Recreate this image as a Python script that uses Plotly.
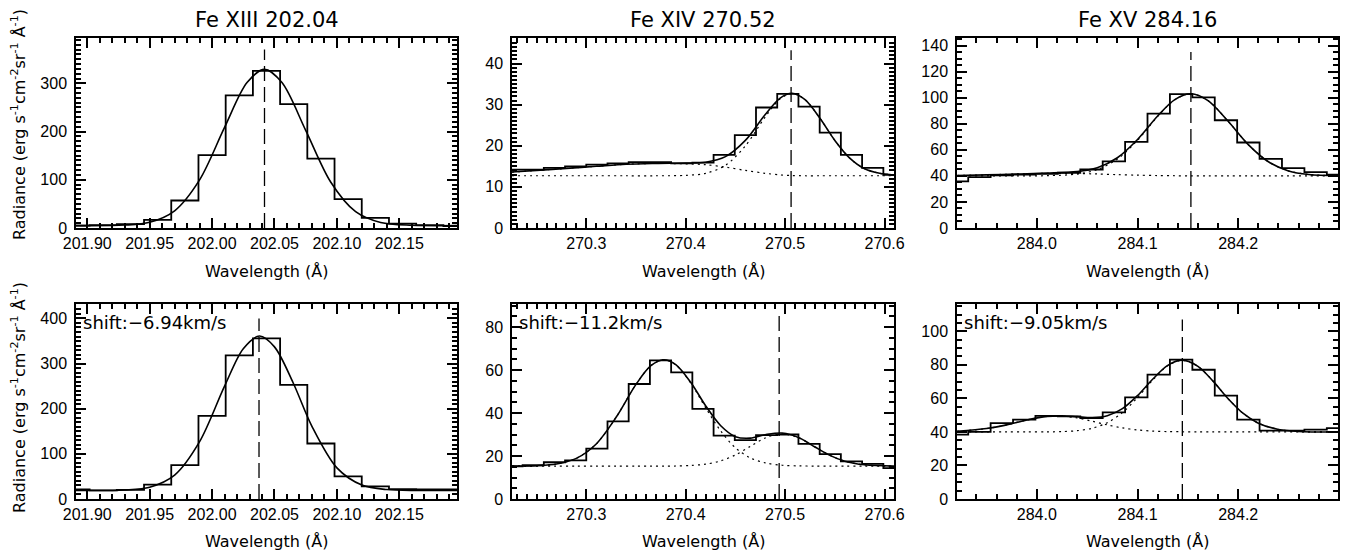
import plotly.graph_objects as go

# ---- panel data ----
# top row: Fe XIII / Fe XIV / Fe XV, first observation
WL1 = [201.891, 201.9128, 201.9346, 201.9564, 201.9782, 202.0000, 202.0218, 202.0436,
       202.0654, 202.0872, 202.1090, 202.1308, 202.1526, 202.1744, 202.1962]
RAD1 = [5, 6, 8, 17, 57, 151, 275, 326, 257, 144, 60, 21, 9, 6, 4]
FITX1 = [201.891, 201.93, 201.95, 201.97, 201.99, 202.01, 202.028, 202.042, 202.056,
         202.075, 202.095, 202.115, 202.135, 202.16, 202.1962]
FIT1 = [5, 6.1, 11.9, 35.7, 99.8, 208.5, 301.5, 329, 301.5, 202.5, 95.4, 33.8, 11.4, 5.6, 5]

WL2 = [270.2253, 270.2466, 270.2680, 270.2893, 270.3107, 270.3320, 270.3533, 270.3747,
       270.3960, 270.4174, 270.4387, 270.4600, 270.4814, 270.5027, 270.5241, 270.5454,
       270.5667, 270.5881, 270.6095]
RAD2 = [14.2, 14.2, 14.6, 15.0, 15.4, 15.7, 16.0, 16.0, 15.7, 15.9, 17.8, 22.6, 29.3,
        32.6, 29.5, 23.2, 17.8, 14.6, 12.9]
FITX2 = [270.2253, 270.25, 270.28, 270.31, 270.34, 270.37, 270.40, 270.42, 270.44, 270.46,
         270.48, 270.495, 270.507, 270.52, 270.535, 270.55, 270.565, 270.58, 270.595, 270.6095]
FIT2 = [13.6, 14.0, 14.5, 15.0, 15.5, 15.7, 15.8, 16.0, 17.35, 21.3, 27.6, 31.6, 32.75,
        31.2, 26.7, 21.3, 17.0, 14.4, 13.3, 12.9]
COMPA2 = [13.6, 14.0, 14.5, 15.0, 15.5, 15.7, 15.6, 15.4, 14.8, 14.0, 13.3, 12.9, 12.75,
          12.7, 12.7, 12.7, 12.7, 12.7, 12.7, 12.7]
COMPB2 = [12.7, 12.7, 12.7, 12.7, 12.7, 12.7, 12.8, 13.3, 15.25, 19.96, 27.0, 31.4, 32.7,
          31.2, 26.7, 21.3, 17.0, 14.4, 13.3, 12.9]

WL3 = [283.9207, 283.9430, 283.9652, 283.9875, 284.0097, 284.0320, 284.0543, 284.0765,
       284.0988, 284.1210, 284.1433, 284.1656, 284.1878, 284.2101, 284.2323, 284.2546,
       284.2769, 284.2991]
RAD3 = [35.8, 39.1, 40.4, 40.9, 41.6, 42.4, 44.9, 51.2, 66.1, 87.8, 102.7, 100.2, 82.7,
        65.6, 53.0, 45.9, 42.9, 40.9]
FITX3 = [283.9207, 283.95, 283.98, 284.01, 284.04, 284.06, 284.08, 284.10, 284.12, 284.137,
         284.153, 284.17, 284.19, 284.21, 284.23, 284.25, 284.27, 284.2991]
FIT3 = [40.3, 40.75, 41.45, 42.1, 43.25, 46.25, 53.9, 67.9, 85.9, 98.5, 103.0, 97.8, 81.9,
        64.0, 50.8, 43.8, 41.1, 40.1]
COMPA3 = [40.0, 40.0, 40.0, 40.15, 41.4, 44.8, 52.9, 67.3, 85.6, 98.4, 103.0, 97.8, 81.9,
          64.0, 50.8, 43.8, 41.1, 40.1]
COMPB3 = [40.3, 40.75, 41.45, 41.95, 41.85, 41.45, 40.95, 40.55, 40.25, 40.1, 40.0, 40.0,
          40.0, 40.0, 40.0, 40.0, 40.0, 40.0]

# bottom row: second observation, with Doppler shift
WL4 = [201.891, 201.9128, 201.9346, 201.9564, 201.9782, 202.0000, 202.0218, 202.0436,
       202.0654, 202.0872, 202.1090, 202.1308, 202.1526, 202.1744, 202.1962]
RAD4 = [21, 19, 20, 32, 75, 184, 318, 356, 253, 123, 50, 28, 22, 21, 21]
FITX4 = [201.891, 201.93, 201.95, 201.97, 201.99, 202.01, 202.025, 202.038, 202.05,
         202.065, 202.08, 202.10, 202.12, 202.14, 202.165, 202.1962]
FIT4 = [19, 20.0, 26.1, 52.9, 127, 250, 333, 361, 337, 257, 161, 69, 30.9, 20.9, 19.1, 19]

WL5 = [270.2253, 270.2466, 270.2680, 270.2893, 270.3107, 270.3320, 270.3533, 270.3747,
       270.3960, 270.4174, 270.4387, 270.4600, 270.4814, 270.5027, 270.5241, 270.5454,
       270.5667, 270.5881, 270.6095]
RAD5 = [15.2, 15.7, 17.1, 18.0, 23.4, 36.1, 53.5, 64.5, 58.9, 41.9, 29.5, 27.4, 29.7,
        30.0, 25.6, 20.9, 17.5, 16.3, 14.4]
FITX5 = [270.2253, 270.25, 270.27, 270.29, 270.31, 270.33, 270.35, 270.365, 270.378, 270.39,
         270.405, 270.42, 270.435, 270.45, 270.465, 270.48, 270.497, 270.515, 270.53,
         270.545, 270.56, 270.58, 270.6095]
FIT5 = [15.3, 15.5, 16.25, 18.9, 25.6, 38.0, 53.3, 62.0, 64.8, 62.5, 54.3, 43.4, 34.2,
        29.0, 28.3, 29.9, 30.7, 28.3, 24.2, 20.3, 17.6, 15.9, 15.3]
COMPA5 = [15.3, 15.5, 16.25, 18.9, 25.6, 38.0, 53.3, 62.0, 64.8, 62.4, 54.0, 42.5, 31.8,
          23.8, 19.1, 16.8, 15.7, 15.4, 15.3, 15.3, 15.3, 15.3, 15.3]
COMPB5 = [15.3, 15.3, 15.3, 15.3, 15.3, 15.3, 15.3, 15.3, 15.3, 15.35, 15.6, 16.2, 17.7,
          20.5, 24.5, 28.4, 30.3, 28.2, 24.2, 20.3, 17.6, 15.9, 15.3]

WL6 = [283.9207, 283.9430, 283.9652, 283.9875, 284.0097, 284.0320, 284.0543, 284.0765,
       284.0988, 284.1210, 284.1433, 284.1656, 284.1878, 284.2101, 284.2323, 284.2546,
       284.2769, 284.2991]
RAD6 = [38.4, 40.0, 45.3, 47.3, 49.6, 49.3, 48.3, 51.7, 60.6, 74.2, 83.1, 77.1, 61.6,
        47.3, 40.8, 40.8, 41.4, 42.3]
FITX6 = [283.9207, 283.95, 283.97, 283.99, 284.01, 284.025, 284.04, 284.055, 284.07,
         284.085, 284.10, 284.115, 284.13, 284.1445, 284.16, 284.175, 284.19, 284.205,
         284.22, 284.24, 284.26, 284.2991]
FIT6 = [40.4, 42.0, 44.2, 47.1, 49.25, 49.6, 49.1, 48.6, 49.7, 53.9, 61.7, 71.4, 79.7,
        82.8, 79.1, 70.3, 59.8, 51.0, 45.2, 41.5, 40.3, 40.0]
COMPA6 = [40.4, 42.0, 44.2, 47.1, 49.2, 49.4, 48.35, 46.4, 44.2, 42.4, 41.2, 40.5, 40.2,
          40.1, 40.0, 40.0, 40.0, 40.0, 40.0, 40.0, 40.0, 40.0]
COMPB6 = [40.0, 40.0, 40.0, 40.0, 40.05, 40.2, 40.75, 42.2, 45.5, 51.5, 60.5, 70.9, 79.5,
          82.7, 79.1, 70.3, 59.8, 51.0, 45.2, 41.5, 40.3, 40.0]

# dashed reference line position and its top end, per panel
LINE_WL = [202.042, 270.506, 284.153, 202.0376, 270.494, 284.1445]
LINE_TOP = [370, 43.2, 135, 400, 86.5, 107]
YMAX = [394, 46.2, 145.8, 432, 90.7, 116.3]

TITLES = ["Fe\u00a0XIII\u00a0202.04", "Fe\u00a0XIV\u00a0270.52", "Fe\u00a0XV\u00a0284.16"]
SHIFTS = ["shift:\u22126.94km/s", "shift:\u221211.2km/s", "shift:\u22129.05km/s"]
YTITLE = "Radiance (erg s<sup>-1</sup>cm<sup>-2</sup>sr<sup>-1</sup> \u00c5<sup>-1</sup>)"
XTITLE = "Wavelength (\u00c5)"

W, H = 1347, 553
FONT = "DejaVu Sans"
TICKFONT = dict(family="Liberation Sans", size=16, color="black")

# pixel boxes of the six plots (left, right, top, bottom)
COLS = [(76, 457), (512, 894), (957, 1338)]
ROWS = [(38, 228), (304, 499)]

panels = [
    (WL1, RAD1, FITX1, FIT1, None, None),
    (WL2, RAD2, FITX2, FIT2, COMPA2, COMPB2),
    (WL3, RAD3, FITX3, FIT3, COMPA3, COMPB3),
    (WL4, RAD4, FITX4, FIT4, None, None),
    (WL5, RAD5, FITX5, FIT5, COMPA5, COMPB5),
    (WL6, RAD6, FITX6, FIT6, COMPA6, COMPB6),
]
# x tick setup per column: tick0, dtick, minor dtick, format
XTICKS = [(201.90, 0.05, 0.01, ".2f"), (270.3, 0.1, 0.01, ".1f"), (284.0, 0.1, 0.02, ".1f")]
# y tick setup per panel: dtick, minor dtick
YTICKS = [(100, 10), (10, 1), (20, 5), (100, 10), (20, 5), (20, 5)]


def px_x(x):
    return x / W


def px_y(y):
    return 1 - y / H


fig = go.Figure()
layout = {}

for k, (wl, rad, fx, fy, ca, cb) in enumerate(panels):
    n = k + 1
    col, row = k % 3, k // 3
    xs = "x" if n == 1 else "x%d" % n
    ys = "y" if n == 1 else "y%d" % n

    fig.add_trace(go.Scatter(x=wl, y=rad, mode="lines", line_shape="hvh",
                             line=dict(color="black", width=1.8),
                             xaxis=xs, yaxis=ys, showlegend=False))
    for comp in (ca, cb):
        if comp is not None:
            fig.add_trace(go.Scatter(x=fx, y=comp, mode="lines", line_shape="spline",
                                     line=dict(color="black", width=1.2, dash="2px,4px", smoothing=0.9),
                                     xaxis=xs, yaxis=ys, showlegend=False))
    fig.add_trace(go.Scatter(x=fx, y=fy, mode="lines", line_shape="spline",
                             line=dict(color="black", width=1.6, smoothing=0.9),
                             xaxis=xs, yaxis=ys, showlegend=False))
    fig.add_trace(go.Scatter(x=[LINE_WL[k], LINE_WL[k]], y=[0, LINE_TOP[k]], mode="lines",
                             line=dict(color="black", width=1.3, dash="15px,6px"),
                             xaxis=xs, yaxis=ys, showlegend=False))

    t0, dt, mdt, fmt = XTICKS[col]
    l, r = COLS[col]
    t, b = ROWS[row]
    common = dict(ticks="inside", ticklen=10, tickwidth=1.8, tickcolor="black",
                  showline=True, linecolor="black", linewidth=1.5, mirror="allticks",
                  showgrid=False, zeroline=False, tickfont=TICKFONT, automargin=False)
    layout["xaxis" if n == 1 else "xaxis%d" % n] = dict(
        domain=[px_x(l), px_x(r)], anchor=ys, range=[wl[0], wl[-1]],
        tickmode="linear", tick0=t0, dtick=dt, tickformat=fmt,
        minor=dict(dtick=mdt, tick0=t0, ticks="inside", ticklen=5, tickcolor="black", tickwidth=1.8),
        **common)
    ydt, ymdt = YTICKS[k]
    layout["yaxis" if n == 1 else "yaxis%d" % n] = dict(
        domain=[px_y(b), px_y(t)], anchor=xs, range=[0, YMAX[k]],
        tickmode="linear", tick0=0, dtick=ydt, ticklabelstandoff=4,
        minor=dict(dtick=ymdt, tick0=0, ticks="inside", ticklen=5, tickcolor="black", tickwidth=1.8),
        **common)

annotations = []
for c, (l, r) in enumerate(COLS):
    cx = px_x((l + r) / 2)
    annotations.append(dict(text=TITLES[c], x=cx, y=px_y(20), xref="paper", yref="paper",
                            showarrow=False, xanchor="center", yanchor="middle",
                            font=dict(family=FONT, size=21, color="black")))
    for yy in (271, 541):
        annotations.append(dict(text=XTITLE, x=cx, y=px_y(yy), xref="paper", yref="paper",
                                showarrow=False, xanchor="center", yanchor="middle",
                                font=dict(family=FONT, size=16, color="black")))
    annotations.append(dict(text=SHIFTS[c], x=px_x(l + 5), y=px_y(322), xref="paper", yref="paper",
                            showarrow=False, xanchor="left", yanchor="middle",
                            font=dict(family=FONT, size=18, color="black")))
for yy in (125, 398):
    annotations.append(dict(text=YTITLE, x=px_x(18), y=px_y(yy), xref="paper", yref="paper",
                            showarrow=False, textangle=-90, xanchor="center", yanchor="middle",
                            font=dict(family=FONT, size=16, color="black")))

fig.update_layout(width=W, height=H, margin=dict(l=0, r=0, t=0, b=0),
                  paper_bgcolor="white", plot_bgcolor="white",
                  annotations=annotations, **layout)

# the page body has a default margin; drop it so the figure sits at the window's corner
fig.write_html("out.html", config={"displayModeBar": False},
               post_script="document.body.style.margin='0px';")
